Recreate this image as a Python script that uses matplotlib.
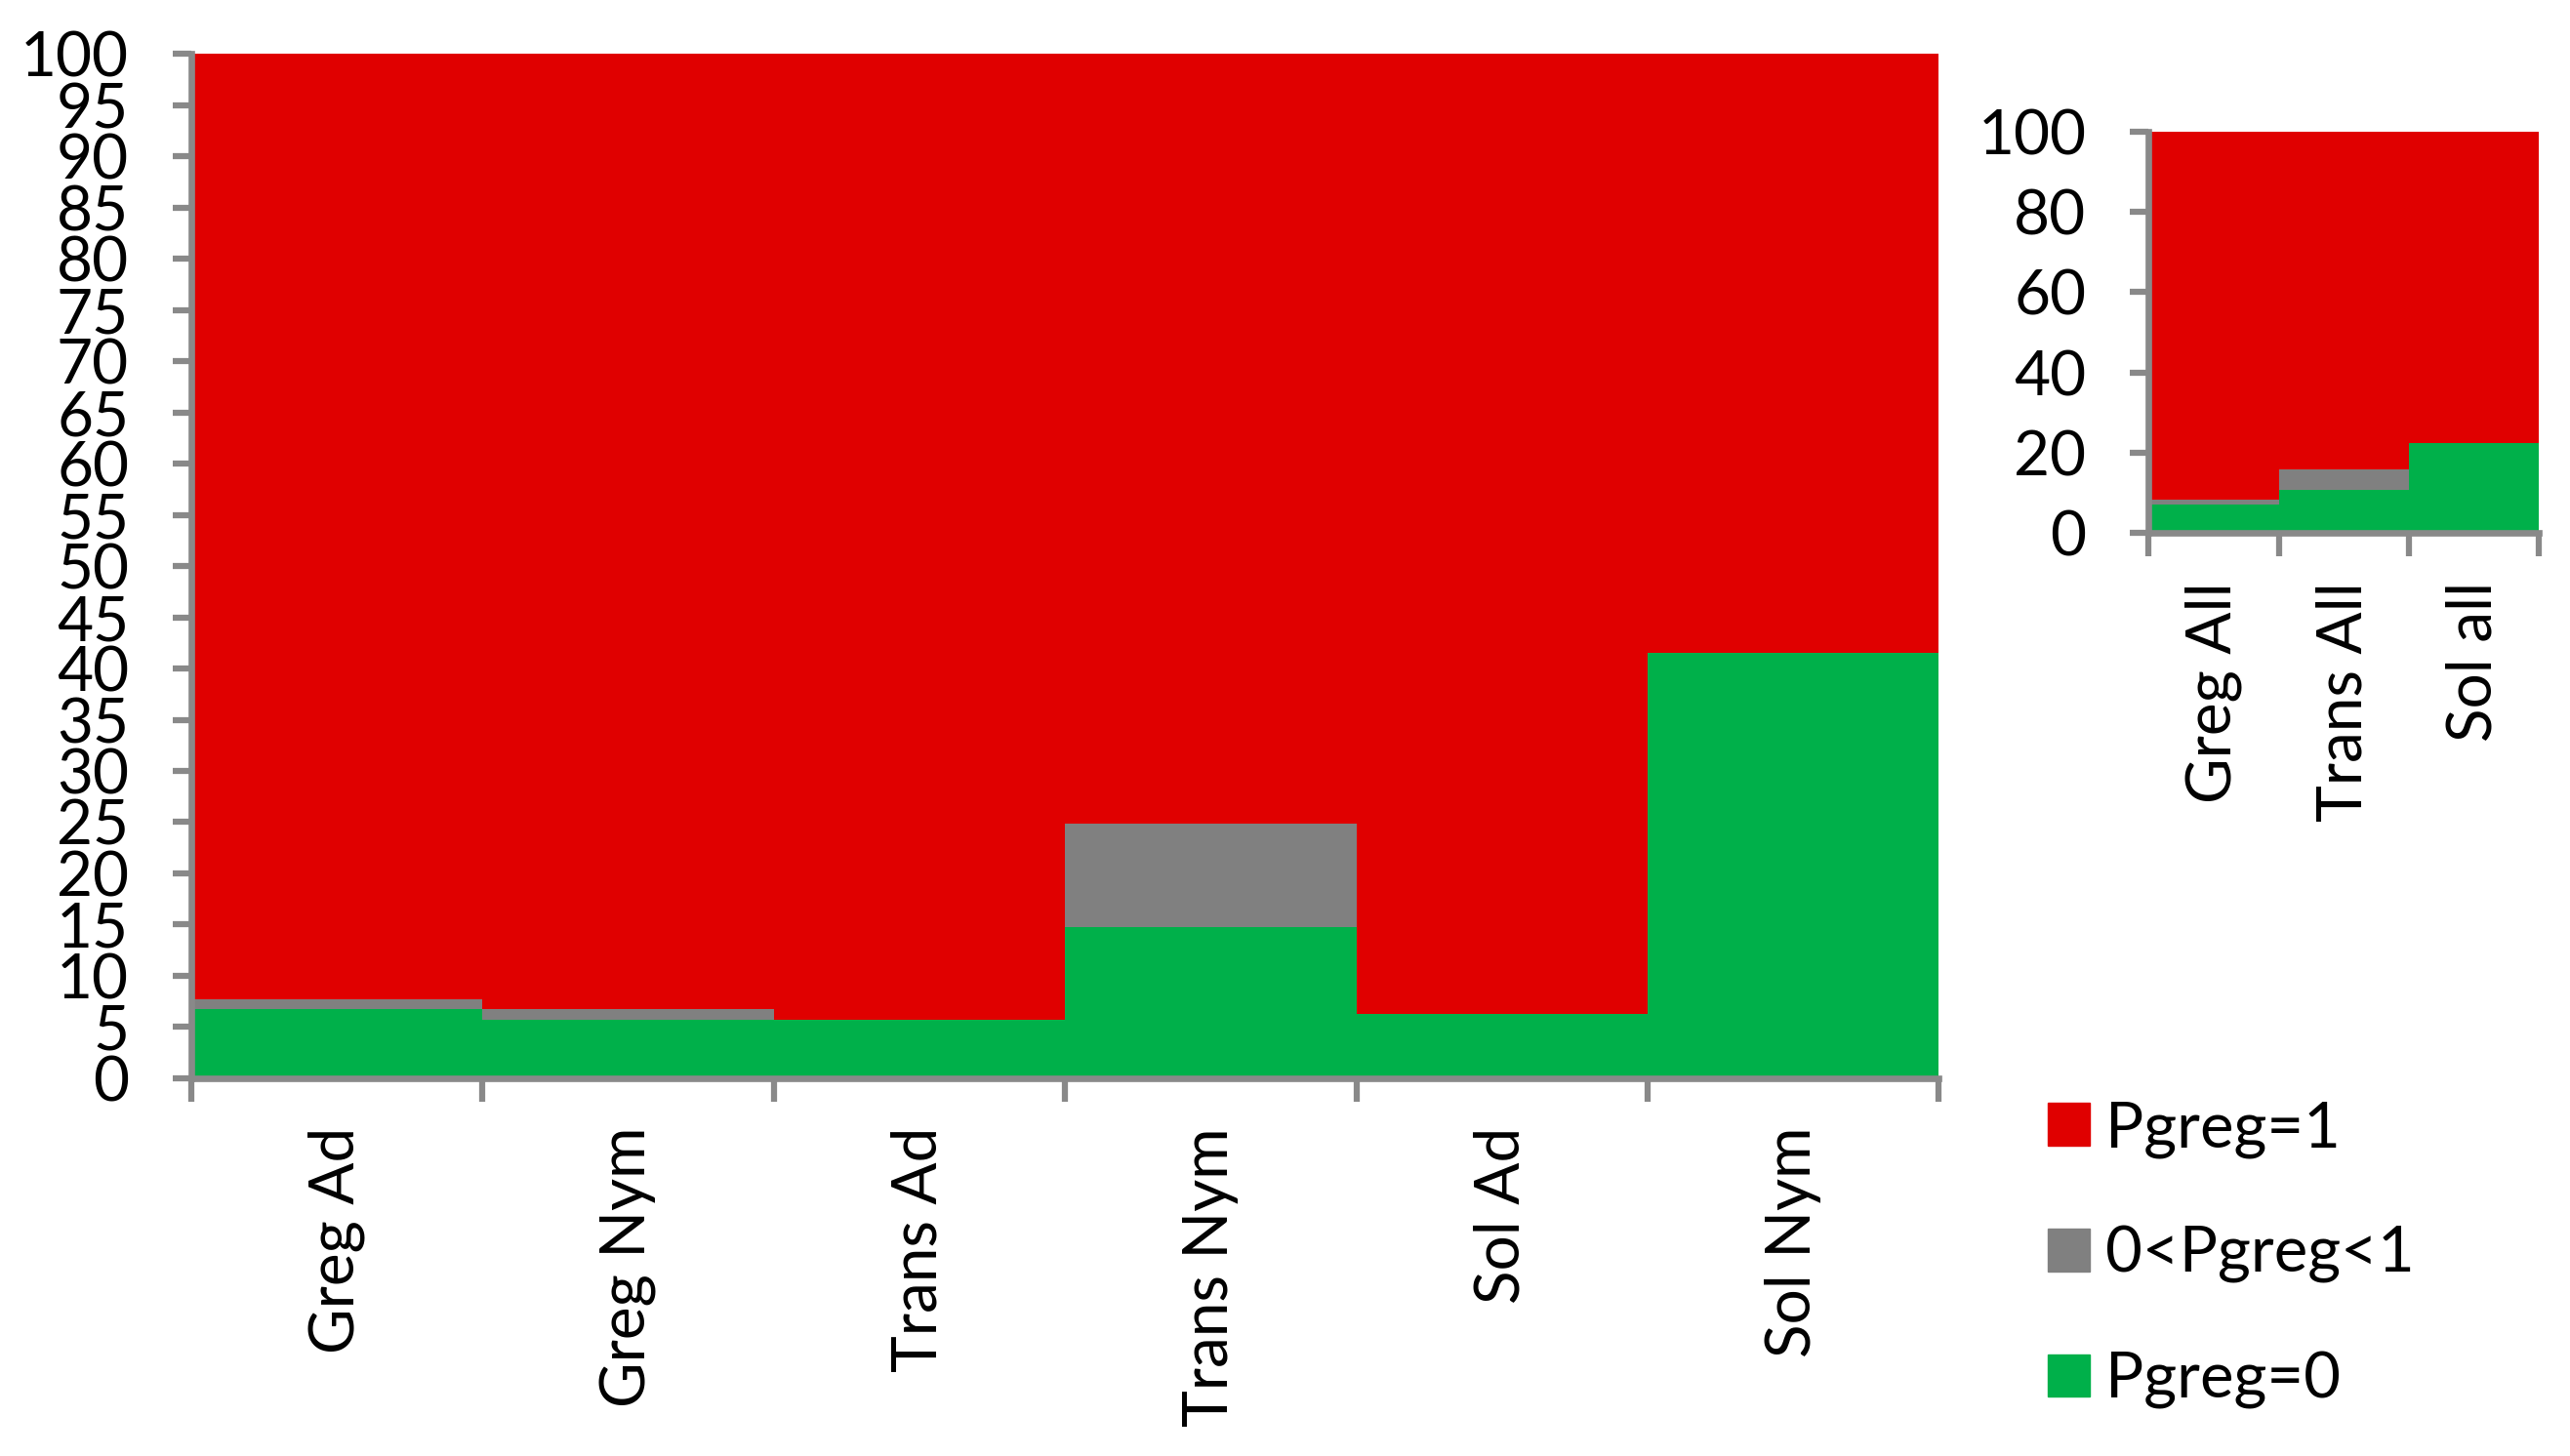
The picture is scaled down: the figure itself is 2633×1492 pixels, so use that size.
import matplotlib
matplotlib.use("Agg")
import matplotlib.pyplot as plt
from matplotlib.patches import Patch
import numpy as np

plt.rcParams["font.family"] = ["Lato", "DejaVu Sans"]

# main chart
groups = ["Greg Ad", "Greg Nym", "Trans Ad", "Trans Nym", "Sol Ad", "Sol Nym"]
p_zero = [6.75, 5.7, 5.7, 14.8, 6.3, 41.5]
p_mid = [0.95, 1.05, 0.0, 10.1, 0.0, 0.0]

# inset, pooled
groups_all = ["Greg All", "Trans All", "Sol all"]
p_zero_all = [7.0, 10.8, 22.3]
p_mid_all = [1.2, 5.0, 0.0]

labels = ["Pgreg=1", "0<Pgreg<1", "Pgreg=0"]
RED = "#E00000"
GREY = "#808080"
GREEN = "#00B04A"
AXC = "#898989"
FS = 46


def stacked(ax, names, zero, mid):
    x = np.arange(len(names))
    zero = np.array(zero)
    mid = np.array(mid)
    one = 100 - zero - mid
    ax.bar(x, zero, width=1.0, color=GREEN, zorder=2)
    ax.bar(x, mid, width=1.0, bottom=zero, color=GREY, zorder=2)
    ax.bar(x, one, width=1.0, bottom=zero + mid, color=RED, zorder=2)
    ax.set_xlim(-0.5, len(names) - 0.5)
    ax.set_ylim(0, 100)
    ax.set_xticks(np.arange(len(names) + 1) - 0.5)
    ax.set_xticklabels([])
    ax.set_xticks(x, minor=True)
    ax.set_xticklabels(names, minor=True, rotation=90, va="top", fontsize=FS)
    ax.tick_params(axis="x", which="major", length=17, width=4.5, color=AXC)
    ax.tick_params(axis="x", which="minor", length=0, pad=36)
    ax.tick_params(axis="y", length=14, width=4.5, color=AXC, pad=32, labelsize=FS)
    for s in ["top", "right"]:
        ax.spines[s].set_visible(False)
    for s in ["left", "bottom"]:
        ax.spines[s].set_color(AXC)
        ax.spines[s].set_linewidth(4.8)
        ax.spines[s].set_zorder(3)
    ax.patch.set_alpha(0)


fig = plt.figure(figsize=(26.33, 14.92), dpi=100)

ax = fig.add_axes([0.0744, 0.2594, 0.680, 0.7037])
stacked(ax, groups, p_zero, p_mid)
ax.set_yticks(np.arange(0, 101, 5))

ax2 = fig.add_axes([0.836, 0.634, 0.152, 0.2755])
stacked(ax2, groups_all, p_zero_all, p_mid_all)
ax2.set_yticks(np.arange(0, 101, 20))
ax2.yaxis.grid(True, color=AXC, linewidth=3.4, zorder=1)
ax2.set_axisbelow(True)

handles = [Patch(color=RED), Patch(color=GREY), Patch(color=GREEN)]
fig.legend(handles, labels, loc="upper left", bbox_to_anchor=(0.787, 0.262),
           frameon=False, fontsize=47, handlelength=0.65, handleheight=0.65,
           handletextpad=0.25, labelspacing=1.06, borderaxespad=0)

fig.savefig("out.png", dpi=100)
